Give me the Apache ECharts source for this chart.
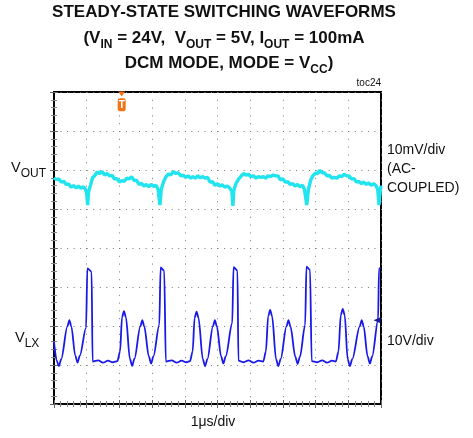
<!DOCTYPE html>
<html>
<head>
<meta charset="utf-8">
<script src="https://cdn.jsdelivr.net/npm/echarts@6/dist/echarts.min.js"></script>
<style>
  html, body { margin: 0; padding: 0; background: #fff; }
  #chart { width: 473px; height: 438px; }
</style>
</head>
<body>
<div id="chart"></div>
<script>
// time in us (1us/div), amplitude in screen divisions (0 = bottom of screen)
var vlxTime = [0.00, 0.08, 0.15, 0.22, 0.41, 0.47, 0.53, 0.65, 0.72, 0.79, 0.98, 1.02, 1.15, 1.18,
  1.35, 1.50, 1.65, 1.80, 1.94,
  2.02, 2.08, 2.14, 2.20, 2.32, 2.39, 2.46, 2.64, 2.70, 2.76, 2.90, 2.97, 3.04, 3.22, 3.26, 3.37, 3.42,
  3.60, 3.75, 3.90, 4.05, 4.16,
  4.24, 4.30, 4.36, 4.42, 4.55, 4.62, 4.69, 4.86, 4.92, 4.98, 5.11, 5.18, 5.25, 5.45, 5.49, 5.61, 5.64,
  5.80, 5.95, 6.10, 6.25, 6.40,
  6.48, 6.55, 6.61, 6.67, 6.79, 6.86, 6.93, 7.11, 7.17, 7.23, 7.38, 7.45, 7.52, 7.68, 7.72, 7.83, 7.88,
  8.05, 8.20, 8.35, 8.50, 8.62,
  8.70, 8.77, 8.83, 8.89, 8.98, 9.05, 9.12, 9.35, 9.41, 9.47, 9.59, 9.66, 9.73, 9.91, 9.94, 10.00];
var vlxLevel = [1.60, 1.12, 0.97, 1.15, 1.99, 2.15, 1.99, 1.24, 1.06, 1.24, 1.95, 3.48, 3.39, 1.09,
  1.12, 1.06, 1.11, 1.07, 1.10,
  1.35, 2.22, 2.38, 2.22, 1.16, 0.98, 1.16, 1.99, 2.15, 1.99, 1.22, 1.04, 1.22, 2.03, 3.50, 3.42, 1.09,
  1.12, 1.06, 1.11, 1.07, 1.10,
  1.35, 2.21, 2.37, 2.21, 1.15, 0.97, 1.15, 1.99, 2.15, 1.99, 1.22, 1.04, 1.22, 2.07, 3.51, 3.42, 1.11,
  1.07, 1.12, 1.06, 1.11, 1.09,
  1.35, 2.25, 2.41, 2.25, 1.15, 0.97, 1.15, 1.99, 2.15, 1.99, 1.21, 1.03, 1.21, 2.03, 3.52, 3.44, 1.10,
  1.07, 1.12, 1.06, 1.11, 1.09,
  1.35, 2.28, 2.44, 2.28, 1.15, 0.97, 1.15, 1.99, 2.15, 1.99, 1.22, 1.04, 1.22, 2.15, 3.48, 3.48];

var voutTime = [0.00, 0.08, 0.15, 0.22, 0.30, 0.37, 0.45, 0.52, 0.60, 0.68, 0.75, 0.82, 0.90, 0.96,
  1.00, 1.03, 1.06, 1.12, 1.18, 1.25, 1.32, 1.40, 1.47, 1.55, 1.62, 1.70, 1.78, 1.85, 1.92,
  2.00, 2.07, 2.15, 2.22, 2.30, 2.37, 2.45, 2.52, 2.60, 2.67, 2.75, 2.82, 2.90, 2.97,
  3.05, 3.12, 3.18, 3.24, 3.28, 3.35, 3.42, 3.50, 3.57, 3.65, 3.72, 3.80, 3.88, 3.95,
  4.02, 4.10, 4.18, 4.25, 4.32, 4.40, 4.47, 4.55, 4.62, 4.70, 4.77, 4.85, 4.92,
  5.00, 5.07, 5.15, 5.22, 5.30, 5.38, 5.44, 5.47, 5.50, 5.57, 5.64, 5.72, 5.80, 5.87, 5.95,
  6.02, 6.10, 6.18, 6.25, 6.32, 6.40, 6.47, 6.55, 6.62, 6.70, 6.78, 6.85, 6.92,
  7.00, 7.07, 7.15, 7.22, 7.30, 7.37, 7.45, 7.52, 7.60, 7.66, 7.73, 7.78, 7.85, 7.92,
  8.00, 8.07, 8.12, 8.20, 8.27, 8.35, 8.42, 8.50, 8.57, 8.65, 8.72, 8.80, 8.87, 8.95,
  9.02, 9.10, 9.17, 9.25, 9.32, 9.40, 9.47, 9.55, 9.62, 9.70, 9.78, 9.85, 9.90, 9.94, 9.97, 10.00];
var voutLevel = [5.80, 5.75, 5.77, 5.69, 5.71, 5.63, 5.64, 5.56, 5.60, 5.54, 5.59, 5.53, 5.57, 5.51,
  5.40, 5.10, 5.45, 5.62, 5.80, 5.86, 5.95, 5.91, 5.96, 5.87, 5.91, 5.85, 5.86, 5.77, 5.78,
  5.69, 5.73, 5.71, 5.79, 5.77, 5.83, 5.73, 5.74, 5.63, 5.66, 5.59, 5.63, 5.57, 5.63,
  5.58, 5.61, 5.51, 5.10, 5.50, 5.70, 5.82, 5.90, 5.87, 5.96, 5.91, 5.93, 5.85, 5.87,
  5.81, 5.85, 5.79, 5.83, 5.79, 5.85, 5.80, 5.83, 5.79, 5.81, 5.69, 5.70, 5.61,
  5.65, 5.59, 5.62, 5.56, 5.59, 5.53, 5.45, 5.08, 5.48, 5.66, 5.76, 5.84, 5.91, 5.87, 5.89,
  5.83, 5.85, 5.79, 5.83, 5.81, 5.83, 5.79, 5.85, 5.83, 5.87, 5.85, 5.85, 5.75,
  5.77, 5.69, 5.70, 5.63, 5.65, 5.59, 5.63, 5.57, 5.61, 5.50, 5.10, 5.50, 5.74, 5.86,
  5.92, 5.91, 5.99, 5.93, 5.93, 5.85, 5.86, 5.79, 5.81, 5.79, 5.85, 5.83, 5.89, 5.85,
  5.85, 5.77, 5.78, 5.69, 5.71, 5.65, 5.69, 5.63, 5.67, 5.61, 5.65, 5.59, 5.50, 5.10, 5.40, 5.60];

var triggerPos = [2.07, 7.67];
var vlxMarker = [10, 2.15];

function zip(a, b) {
  return a.map(function (v, i) { return [v, b[i]]; });
}

var font = 'Liberation Sans, Arial, sans-serif';
var axisBase = {
  type: 'value',
  axisLabel: { show: false },
  axisLine: { show: false },
  axisTick: { show: true, inside: true, length: 4, lineStyle: { color: '#666' } },
  minorTick: { show: true, splitNumber: 5, length: 3, lineStyle: { color: '#888' } }
};
var sub = function (bold) {
  return {
    m: { fontSize: bold ? 17 : 14.5, fontWeight: bold ? 'bold' : 'normal', fontFamily: font, fill: '#111' },
    s: { fontSize: 12, fontWeight: bold ? 'bold' : 'normal', fontFamily: font, fill: '#111', padding: [bold ? 13 : 12, 0, 0, 0] }
  };
};

var chart = echarts.init(document.getElementById('chart'));
chart.setOption({
  animation: false,
  backgroundColor: '#fff',
  grid: { left: 54, top: 92, right: 92, bottom: 34, show: true, borderColor: '#000', borderWidth: 2 },
  xAxis: [
    Object.assign({}, axisBase, { min: 0, max: 10, interval: 1, position: 'bottom',
      splitLine: { show: true, lineStyle: { color: '#777', width: 1, type: [1, 6.8] } } }),
    Object.assign({}, axisBase, { min: 0, max: 10, interval: 1, position: 'top', splitLine: { show: false } })
  ],
  yAxis: [
    Object.assign({}, axisBase, { min: 0, max: 8, interval: 1, position: 'left',
      splitLine: { show: true, lineStyle: { color: '#777', width: 1, type: [1, 5.54] } } }),
    Object.assign({}, axisBase, { min: 0, max: 8, interval: 1, position: 'right', splitLine: { show: false } })
  ],
  series: [
    {
      name: 'VLX', type: 'line', data: zip(vlxTime, vlxLevel), showSymbol: false,
      smooth: 0.3, smoothMonotone: 'x',
      lineStyle: { color: '#1a1ae8', width: 1.8 },
      markPoint: {
        symbol: 'triangle', symbolSize: [6, 7], symbolRotate: 90, symbolOffset: [-4, 0],
        itemStyle: { color: '#1a1aa0' }, label: { show: false },
        data: [{ coord: vlxMarker }]
      }
    },
    {
      name: 'VOUT', type: 'line', data: zip(voutTime, voutLevel), showSymbol: false,
      lineStyle: { color: '#22e4ef', width: 3.4 },
      markPoint: {
        data: [
          { coord: triggerPos, symbol: 'roundRect', symbolSize: [8, 13],
            itemStyle: { color: '#f07418' },
            label: { show: true, formatter: 'T', color: '#fff', fontSize: 10, fontWeight: 'bold', fontFamily: font } },
          { coord: [triggerPos[0], 8], symbol: 'triangle', symbolSize: [7, 5], symbolRotate: 180, symbolOffset: [0, 2],
            itemStyle: { color: '#f07418' }, label: { show: false } }
        ]
      }
    }
  ],
  graphic: [
    { type: 'text', x: 224, y: 12, style: { text: 'STEADY-STATE SWITCHING WAVEFORMS', font: 'bold 17px ' + font, fill: '#111', align: 'center', verticalAlign: 'middle' } },
    { type: 'text', x: 224, y: 38, style: {
      text: '{m|(V}{s|IN}{m| = 24V,  V}{s|OUT}{m| = 5V, I}{s|OUT}{m| = 100mA}',
      align: 'center', verticalAlign: 'middle', rich: sub(true) } },
    { type: 'text', x: 229, y: 63, style: {
      text: '{m|DCM MODE, MODE = V}{s|CC}{m|)}',
      align: 'center', verticalAlign: 'middle', rich: sub(true) } },
    { type: 'text', x: 381, y: 88, style: { text: 'toc24', font: '10px ' + font, fill: '#111', align: 'right', verticalAlign: 'bottom' } },
    { type: 'text', x: 11, y: 168, style: { text: '{m|V}{s|OUT}', align: 'left', verticalAlign: 'middle', rich: sub(false) } },
    { type: 'text', x: 15, y: 338, style: { text: '{m|V}{s|LX}', align: 'left', verticalAlign: 'middle', rich: sub(false) } },
    { type: 'text', x: 387, y: 157, style: { text: '10mV/div', font: '14px ' + font, fill: '#111', align: 'left', verticalAlign: 'bottom' } },
    { type: 'text', x: 387, y: 176, style: { text: '(AC-', font: '14px ' + font, fill: '#111', align: 'left', verticalAlign: 'bottom' } },
    { type: 'text', x: 387, y: 195, style: { text: 'COUPLED)', font: '14px ' + font, fill: '#111', align: 'left', verticalAlign: 'bottom' } },
    { type: 'text', x: 387, y: 348, style: { text: '10V/div', font: '14px ' + font, fill: '#111', align: 'left', verticalAlign: 'bottom' } },
    { type: 'text', x: 213, y: 429, style: { text: '1μs/div', font: '14px ' + font, fill: '#111', align: 'center', verticalAlign: 'bottom' } }
  ]
});
</script>
</body>
</html>
